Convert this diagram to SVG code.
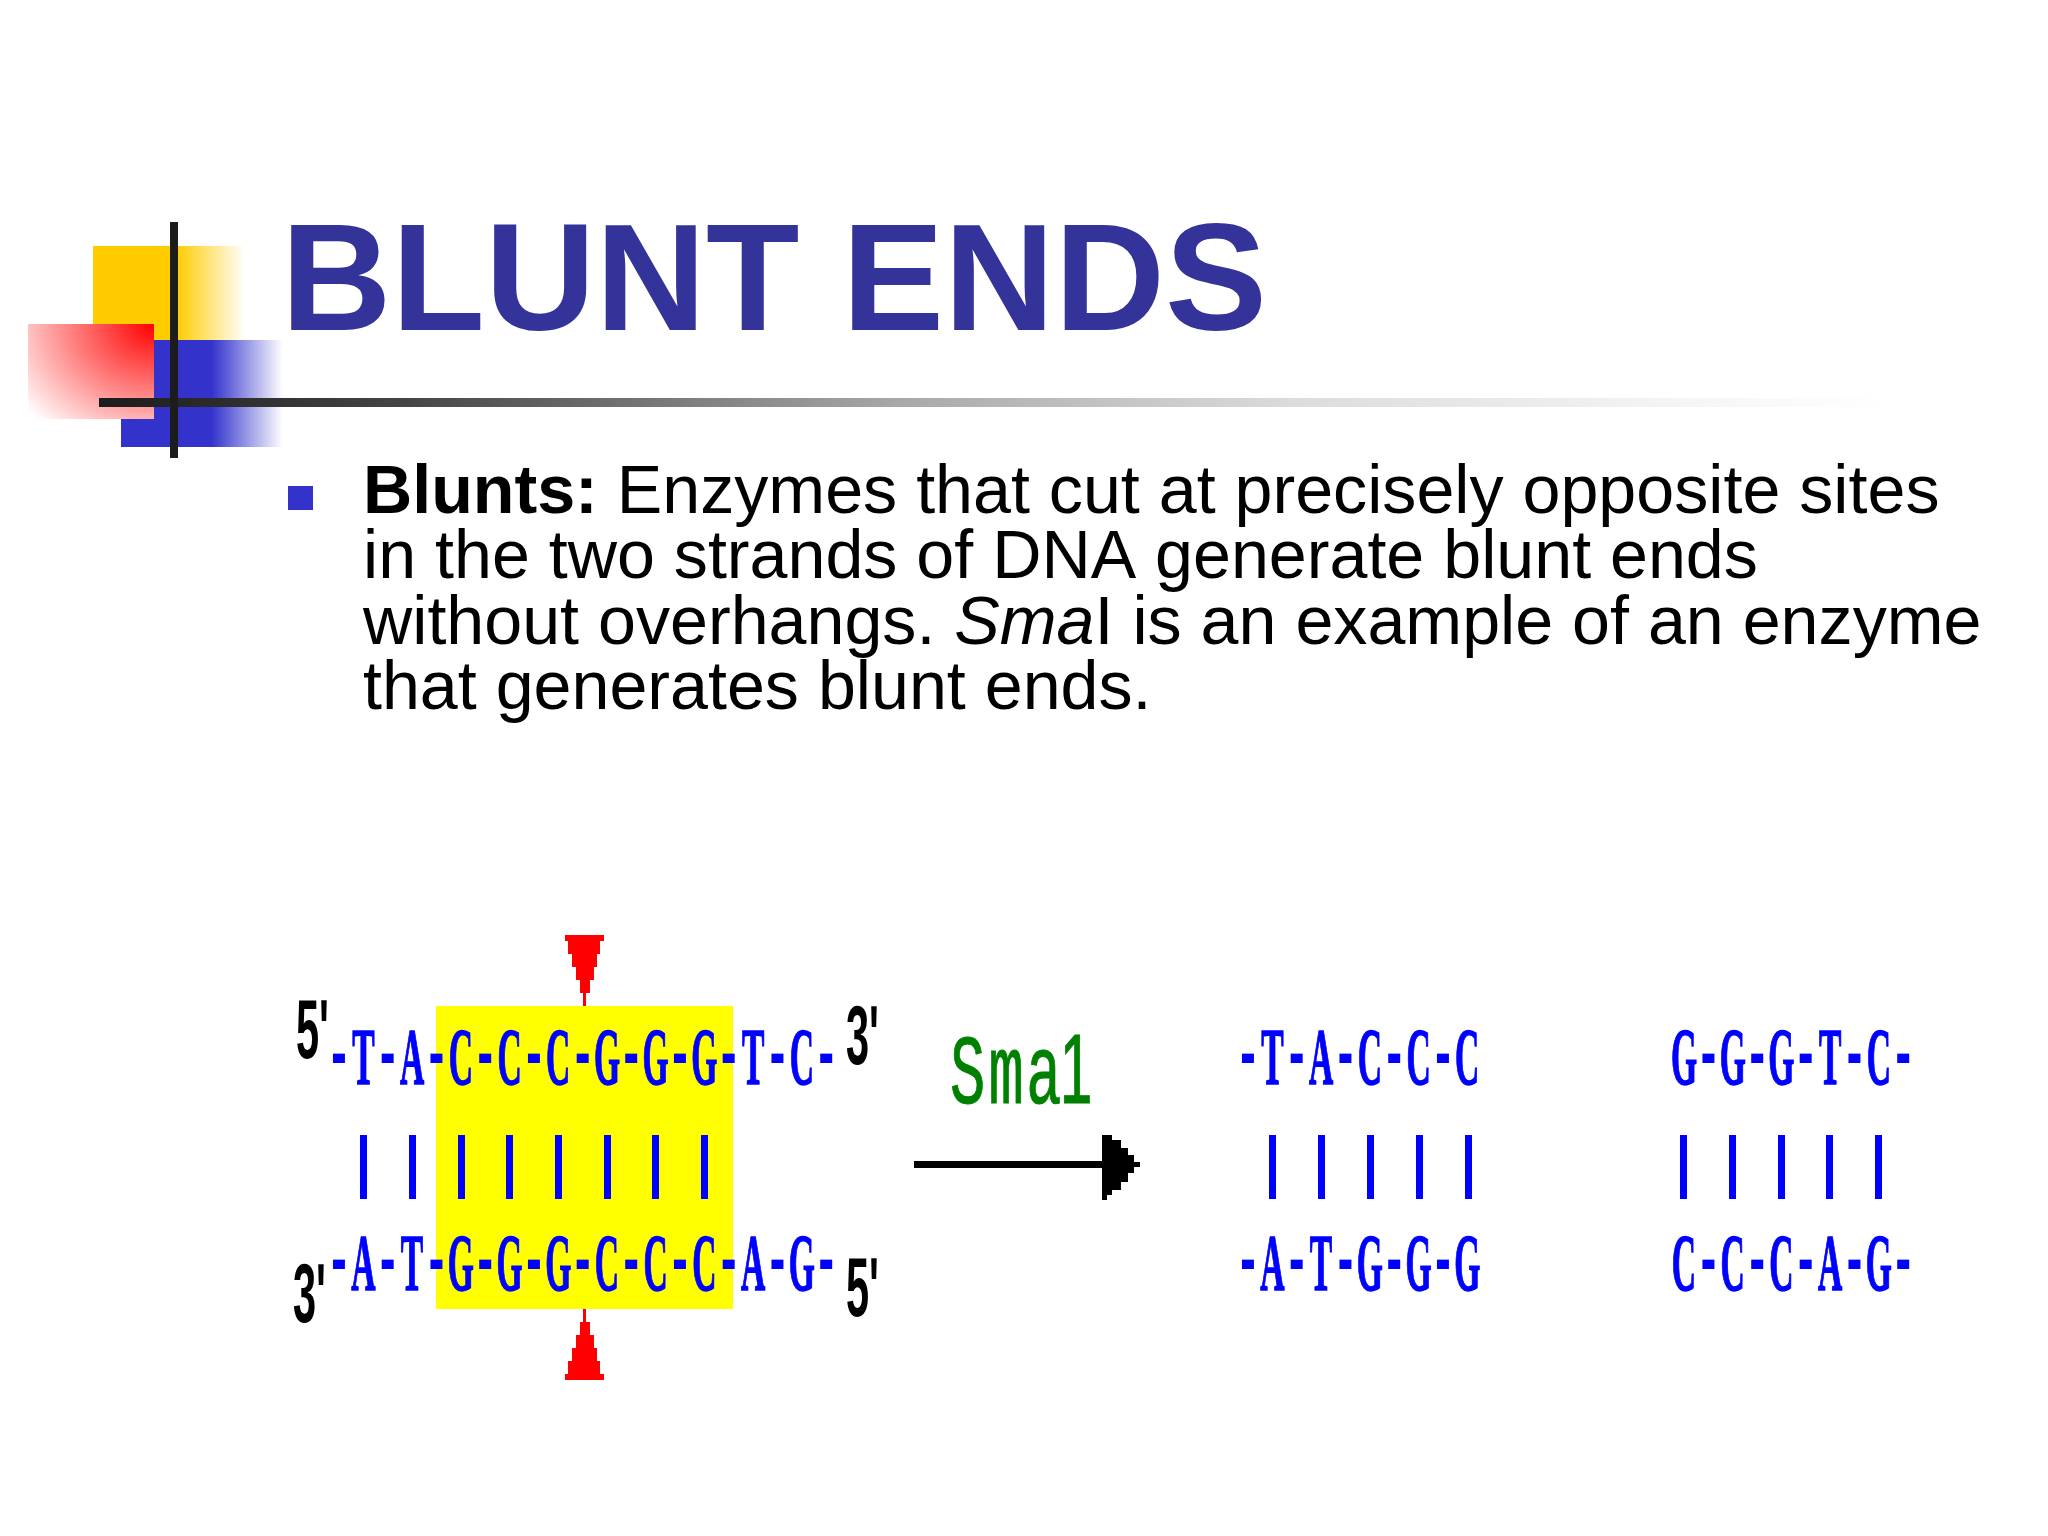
<svg xmlns="http://www.w3.org/2000/svg" width="2048" height="1536" viewBox="0 0 2048 1536">
<style>
.title{font:bold 153px "Liberation Sans",Arial,sans-serif;fill:#333399}
.body{font:68.2px "Liberation Sans",Arial,sans-serif;fill:#000;font-kerning:none}
.dna{font:bold 80px "Liberation Serif","Times New Roman",serif;fill:#0000ff;text-anchor:middle;stroke:#0000ff;stroke-width:1.5}
.h{font-size:110px;stroke-width:0}
.end{font:bold 83px "Liberation Sans",Arial,sans-serif;fill:#000}
.sma{font:98px "Liberation Mono","Courier New",monospace;fill:#008000;stroke:#008000;stroke-width:1}
.one{font-family:"Liberation Sans",Arial,sans-serif}
.bar{fill:#0000ff}
.cut{fill:#ff0000}
</style>
<defs>
<linearGradient id="gy" x1="0" x2="1" y1="0" y2="0"><stop offset="0" stop-color="#ffcc00"/><stop offset=".55" stop-color="#ffcc00"/><stop offset="1" stop-color="#ffcc00" stop-opacity="0"/></linearGradient>
<linearGradient id="gb" x1="0" x2="1" y1="0" y2="0"><stop offset="0" stop-color="#3333cc"/><stop offset=".56" stop-color="#3333cc"/><stop offset="1" stop-color="#3333cc" stop-opacity="0"/></linearGradient>
<radialGradient id="gr" gradientUnits="userSpaceOnUse" cx="0" cy="0" r="1" gradientTransform="translate(154 324) scale(165 135)"><stop offset="0" stop-color="#ff0000"/><stop offset="1" stop-color="#ffffff"/></radialGradient>
<linearGradient id="gl" x1="0" x2="1" y1="0" y2="0"><stop offset="0" stop-color="#1c1c1c"/><stop offset=".168" stop-color="#444444"/><stop offset=".447" stop-color="#a8a8a8"/><stop offset=".67" stop-color="#dcdcdc"/><stop offset=".894" stop-color="#f6f6f6"/><stop offset="1" stop-color="#ffffff"/></linearGradient>
</defs>
<rect width="2048" height="1536" fill="#ffffff"/>
<g id="decoration">
<rect x="93" y="246" width="152" height="94" fill="url(#gy)"/>
<rect x="121" y="340" width="162" height="107" fill="url(#gb)"/>
<rect x="28" y="324" width="126" height="95" fill="url(#gr)"/>
<rect x="99" y="398" width="1790" height="9" fill="url(#gl)"/>
<rect x="170" y="222" width="8" height="236" fill="#1c1c1c"/>
</g>
<g id="title"><text class="title" x="281" y="330">BLUNT ENDS</text></g>
<g id="body">
<rect x="288" y="486" width="25" height="24" fill="#3333cc"/>
<text class="body" x="363" y="513"><tspan font-weight="bold">Blunts:</tspan> Enzymes that cut at precisely opposite sites</text>
<text class="body" x="363" y="578">in the two strands of DNA generate blunt ends</text>
<text class="body" x="363" y="644">without overhangs. <tspan font-style="italic">Sma</tspan>I is an example of an enzyme</text>
<text class="body" x="363" y="709">that generates blunt ends.</text>
</g>
<g id="site">
<rect x="436" y="1006" width="297" height="303" fill="#ffff00"/>
<polygon class="cut" points="565,935 604,935 604,941 600,941 600,954 597,954 597,967 594,967 594,980 590,980 590,993 586,993 586,1006 583,1006 583,993 580,993 580,980 576,980 576,967 572,967 572,954 568,954 568,941 565,941"/>
<polygon class="cut" points="583,1309 586,1309 586,1322 590,1322 590,1335 594,1335 594,1348 597,1348 597,1361 600,1361 600,1374 604,1374 604,1380 565,1380 565,1374 568,1374 568,1361 572,1361 572,1348 576,1348 576,1335 580,1335 580,1322 583,1322"/>
</g>
<g id="strand-full">
<text class="dna" transform="translate(339,1084) scale(.42,1)" x="0 58 116 174 232 290 348 406 464 522 580 638 696 754 812 870 928 986 1044 1102 1160" y="0"><tspan class="h">-</tspan>T<tspan class="h">-</tspan>A<tspan class="h">-</tspan>C<tspan class="h">-</tspan>C<tspan class="h">-</tspan>C<tspan class="h">-</tspan>G<tspan class="h">-</tspan>G<tspan class="h">-</tspan>G<tspan class="h">-</tspan>T<tspan class="h">-</tspan>C<tspan class="h">-</tspan></text>
<text class="dna" transform="translate(339,1290) scale(.42,1)" x="0 58 116 174 232 290 348 406 464 522 580 638 696 754 812 870 928 986 1044 1102 1160" y="0"><tspan class="h">-</tspan>A<tspan class="h">-</tspan>T<tspan class="h">-</tspan>G<tspan class="h">-</tspan>G<tspan class="h">-</tspan>G<tspan class="h">-</tspan>C<tspan class="h">-</tspan>C<tspan class="h">-</tspan>C<tspan class="h">-</tspan>A<tspan class="h">-</tspan>G<tspan class="h">-</tspan></text>
<g class="bar">
<rect x="360" y="1135" width="7" height="64"/><rect x="409" y="1135" width="7" height="64"/><rect x="458" y="1135" width="7" height="64"/><rect x="506" y="1135" width="7" height="64"/><rect x="555" y="1135" width="7" height="64"/><rect x="604" y="1135" width="7" height="64"/><rect x="652" y="1135" width="7" height="64"/><rect x="701" y="1135" width="7" height="64"/>
</g>
<text class="end" transform="translate(296,1058) scale(.5,1)">5'</text>
<text class="end" transform="translate(846,1064) scale(.5,1)">3'</text>
<text class="end" transform="translate(293,1322) scale(.5,1)">3'</text>
<text class="end" transform="translate(846,1316) scale(.5,1)">5'</text>
</g>
<g id="enzyme">
<text class="sma" transform="translate(950,1103) scale(.6,1)" x="0 64 127 150 183" y="0">Sma <tspan class="one">1</tspan></text>
</g>
<g id="connectors">
<rect x="914" y="1161" width="190" height="7"/>
<polygon points="1102,1135 1112,1135 1112,1140 1121,1140 1121,1148 1128,1148 1128,1155 1134,1155 1134,1162 1140,1162 1140,1167 1134,1167 1134,1173 1128,1173 1128,1182 1121,1182 1121,1190 1112,1190 1112,1195 1107,1195 1107,1200 1102,1200"/>
</g>
<g id="fragment-left">
<text class="dna" transform="translate(1248,1084) scale(.42,1)" x="0 58 116 174 232 290 348 406 464 522" y="0"><tspan class="h">-</tspan>T<tspan class="h">-</tspan>A<tspan class="h">-</tspan>C<tspan class="h">-</tspan>C<tspan class="h">-</tspan>C</text>
<text class="dna" transform="translate(1248,1290) scale(.42,1)" x="0 58 116 174 232 290 348 406 464 522" y="0"><tspan class="h">-</tspan>A<tspan class="h">-</tspan>T<tspan class="h">-</tspan>G<tspan class="h">-</tspan>G<tspan class="h">-</tspan>G</text>
<g class="bar"><rect x="1269" y="1135" width="7" height="64"/><rect x="1318" y="1135" width="7" height="64"/><rect x="1367" y="1135" width="7" height="64"/><rect x="1416" y="1135" width="7" height="64"/><rect x="1465" y="1135" width="7" height="64"/></g>
</g>
<g id="fragment-right">
<text class="dna" transform="translate(1684,1084) scale(.42,1)" x="0 58 116 174 232 290 348 406 464 522" y="0">G<tspan class="h">-</tspan>G<tspan class="h">-</tspan>G<tspan class="h">-</tspan>T<tspan class="h">-</tspan>C<tspan class="h">-</tspan></text>
<text class="dna" transform="translate(1684,1290) scale(.42,1)" x="0 58 116 174 232 290 348 406 464 522" y="0">C<tspan class="h">-</tspan>C<tspan class="h">-</tspan>C<tspan class="h">-</tspan>A<tspan class="h">-</tspan>G<tspan class="h">-</tspan></text>
<g class="bar"><rect x="1680" y="1135" width="7" height="64"/><rect x="1729" y="1135" width="7" height="64"/><rect x="1778" y="1135" width="7" height="64"/><rect x="1826" y="1135" width="7" height="64"/><rect x="1875" y="1135" width="7" height="64"/></g>
</g>
</svg>
